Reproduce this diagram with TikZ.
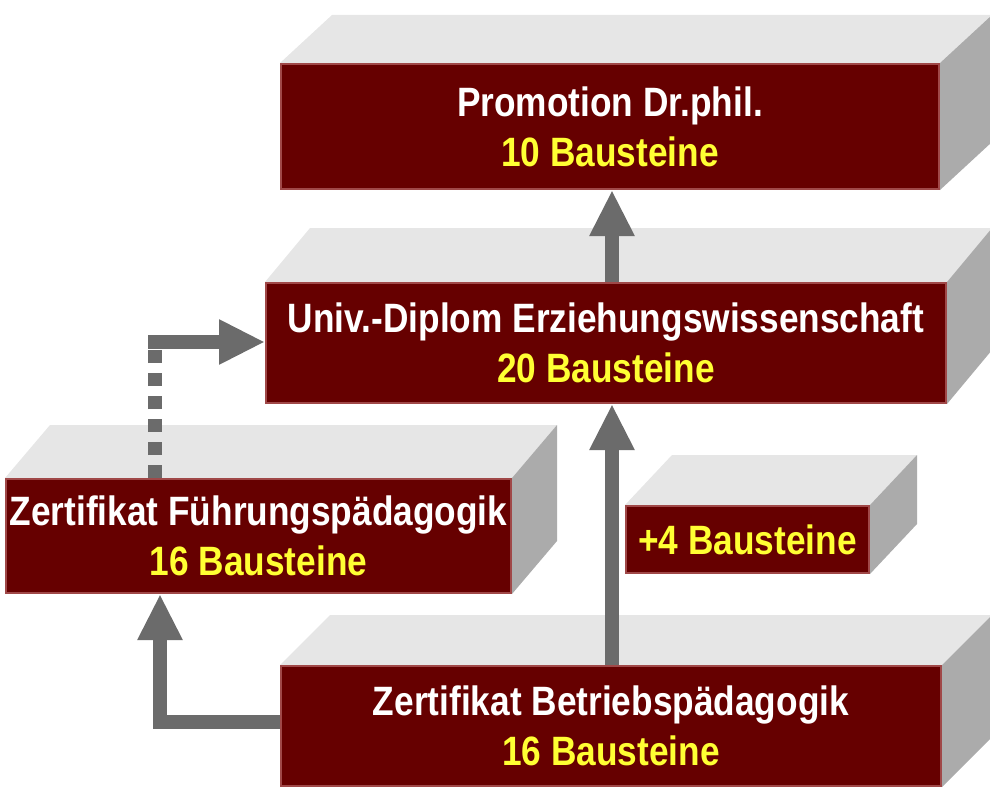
\documentclass[tikz,border=0pt]{standalone}
\usepackage{fontspec}
\setmainfont{Liberation Sans}[FakeStretch=0.86]
\usetikzlibrary{backgrounds,calc,arrows.meta}
\definecolor{front}{HTML}{660000}
\definecolor{edge}{HTML}{A04848}
\definecolor{topf}{HTML}{E6E6E6}
\definecolor{sidef}{HTML}{ABABAB}
\definecolor{yel}{HTML}{FFFF33}
\definecolor{arr}{HTML}{6B6B6B}
\begin{document}
\begin{tikzpicture}[x=1pt,y=-1pt,
  box/.style={fill=front,draw=edge,line width=2pt,inner sep=0pt,anchor=north west,align=center,
    font=\bfseries\fontsize{41}{50}\selectfont,text=white},
  topface/.style={fill=topf},
  sideface/.style={fill=sidef},
  flow/.style={draw=arr,line width=14pt,-{Triangle[length=46pt,width=42pt]}}]
\useasboundingbox (0,0) rectangle (990,800);
\newcommand\threed[3]{%
  \begin{scope}[on background layer]
  \fill[topface] (#1.north west) -- ++(#2,#3) -- ($(#1.north east)+(#2,#3)$) -- (#1.north east) -- cycle;
  \fill[sideface] (#1.north east) -- ++(#2,#3) -- ($(#1.south east)+(#2,#3)$) -- (#1.south east) -- cycle;
  \end{scope}}
\node[box,minimum width=658pt,minimum height=125pt] (prom) at (280,63)
  {Promotion Dr.phil.\\\textcolor{yel}{10 Bausteine}};
\threed{prom}{52}{-48}
\node[box,minimum width=680pt,minimum height=120pt] (univ) at (265,282)
  {Univ.-Diplom Erziehungswissenschaft\\\textcolor{yel}{20 Bausteine}};
\threed{univ}{45}{-54}
\node[box,minimum width=505pt,minimum height=114pt] (fuehr) at (5,478)
  {Zertifikat Führungspädagogik\\\textcolor{yel}{16 Bausteine}};
\threed{fuehr}{45}{-53}
\node[box,minimum width=243pt,minimum height=67pt] (plus) at (625,505)
  {\textcolor{yel}{+4 Bausteine}};
\threed{plus}{47}{-50}
\node[box,minimum width=660pt,minimum height=120pt] (betr) at (280,665)
  {Zertifikat Betriebspädagogik\\\textcolor{yel}{16 Bausteine}};
\threed{betr}{50}{-50}
% arrows
\draw[flow] (univ.north -| 612,0) -- (prom.south -| 612,0);
\draw[flow] (betr.north -| 612,0) -- (univ.south -| 612,0);
\draw[flow] (betr.west |- 0,722) -- (160,722) -- (fuehr.south -| 160,0);
\coordinate (d1) at (fuehr.north -| 155,0);
\draw[draw=arr,line width=14pt,dash pattern=on 13pt off 10pt] (d1) -- (155,350);
\draw[flow] (148,342) -- (univ.west |- 0,342);
\end{tikzpicture}
\end{document}
